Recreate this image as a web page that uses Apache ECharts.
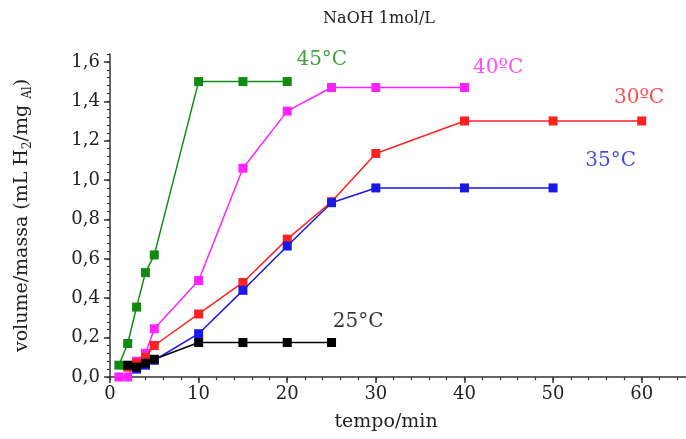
<!DOCTYPE html>
<html>
<head>
<meta charset="utf-8">
<script src="https://cdn.jsdelivr.net/npm/echarts@6/dist/echarts.min.js"></script>
<style>html,body{margin:0;padding:0;background:#fff;}#c{width:686px;height:439px;}</style>
</head>
<body>
<div id="c"></div>
<script>
// ---- data ----
const title = 'NaOH 1mol/L';
const xName = 'tempo/min';
const t45 = [1, 2, 3, 4, 5, 10, 15, 20];
const v45 = [0.06, 0.17, 0.355, 0.53, 0.62, 1.5, 1.5, 1.5];
const t40 = [1, 2, 3, 4, 5, 10, 15, 20, 25, 30, 40];
const v40 = [0, 0, 0.08, 0.12, 0.245, 0.49, 1.06, 1.35, 1.47, 1.47, 1.47];
const t30 = [2, 3, 4, 5, 10, 15, 20, 25, 30, 40, 50, 60];
const v30 = [0.05, 0.07, 0.1, 0.16, 0.32, 0.48, 0.7, 0.89, 1.135, 1.3, 1.3, 1.3];
const t35 = [3, 4, 5, 10, 15, 20, 25, 30, 40, 50];
const v35 = [0.04, 0.06, 0.085, 0.22, 0.44, 0.665, 0.885, 0.96, 0.96, 0.96];
const t25 = [2, 3, 4, 5, 10, 15, 20, 25];
const v25 = [0.06, 0.05, 0.07, 0.09, 0.175, 0.175, 0.175, 0.175];
const seriesNames = ['45°C', '40ºC', '30ºC', '35°C', '25°C'];
// annotation anchors in data units
const labelX = [23.9, 43.8, 59.7, 56.5, 28.0];
const labelY = [1.61, 1.57, 1.42, 1.10, 0.28];

const colors = ['#118a11', '#ff22ff', '#ff2020', '#1818e8', '#000000'];
const times = [t45, t40, t30, t35, t25];
const vals = [v45, v40, v30, v35, v25];
const FONT = 'DejaVu Serif';

const series = times.map((t, i) => ({
  type: 'line',
  name: seriesNames[i],
  data: t.map((x, j) => [x, vals[i][j]]),
  symbol: 'rect',
  symbolSize: 9,
  color: colors[i],
  lineStyle: { width: 1.5, color: colors[i] },
  itemStyle: { color: colors[i] },
  z: 3 + i
}));
series.push({
  type: 'scatter',
  data: labelX.map((x, i) => ({
    value: [x, labelY[i]],
    label: { show: true, position: 'inside', formatter: seriesNames[i], color: colors[i] }
  })),
  symbolSize: 1,
  itemStyle: { color: 'transparent' },
  label: { fontFamily: FONT, fontSize: 20 },
  silent: true,
  z: 10
});

const fmtY = v => (Math.abs(v - Math.round(v / 0.2) * 0.2) < 1e-6) ? v.toFixed(1).replace('.', ',') : '';

const chart = echarts.init(document.getElementById('c'));
chart.setOption({
  animation: false,
  title: { text: title, left: 374, top: 6, textAlign: 'center',
    textStyle: { fontFamily: FONT, fontSize: 16, fontWeight: 'normal', color: '#222' } },
  grid: { left: 110, right: 0, top: 54, bottom: 62, containLabel: false },
  xAxis: [{
    type: 'value', min: 0, max: 65, interval: 10,
    name: xName, nameLocation: 'middle', nameGap: 36,
    nameTextStyle: { fontFamily: FONT, fontSize: 19, color: '#222', padding: [0, 24, 0, 0] },
    axisLine: { show: true, lineStyle: { color: '#333', width: 1.5 } },
    axisTick: { show: true, length: 6, lineStyle: { color: '#333', width: 1.5 } },
    axisLabel: { fontFamily: FONT, fontSize: 18, color: '#222', margin: 8,
      showMaxLabel: false, formatter: v => (v % 10 === 0 ? String(v) : '') },
    splitLine: { show: false }
  }, {
    type: 'value', min: 0, max: 65, interval: 2, position: 'bottom',
    axisLine: { show: false }, axisLabel: { show: false },
    axisTick: { show: true, length: 3, lineStyle: { color: '#333', width: 1.2 } },
    splitLine: { show: false }
  }],
  yAxis: [{
    type: 'value', min: 0, max: 1.64, interval: 0.2,
    name: '{n|volume/massa (mL H}{s|2}{n|/mg }{s|Al}{n|)}',
    nameLocation: 'middle', nameGap: 76,
    nameTextStyle: { rich: {
      n: { fontFamily: FONT, fontSize: 19, color: '#222' },
      s: { fontFamily: FONT, fontSize: 12, color: '#222', verticalAlign: 'bottom', padding: [12, 0, 0, 0] }
    } },
    axisLine: { show: true, lineStyle: { color: '#333', width: 1.5 } },
    axisTick: { show: true, length: 6, lineStyle: { color: '#333', width: 1.5 } },
    axisLabel: { fontFamily: FONT, fontSize: 18, color: '#222', margin: 10,
      showMaxLabel: false, formatter: fmtY },
    splitLine: { show: false }
  }, {
    type: 'value', min: 0, max: 1.64, interval: 0.04, position: 'left',
    axisLine: { show: false }, axisLabel: { show: false },
    axisTick: { show: true, length: 3, lineStyle: { color: '#333', width: 1.2 } },
    splitLine: { show: false }
  }],
  series: series
});
</script>
</body>
</html>
